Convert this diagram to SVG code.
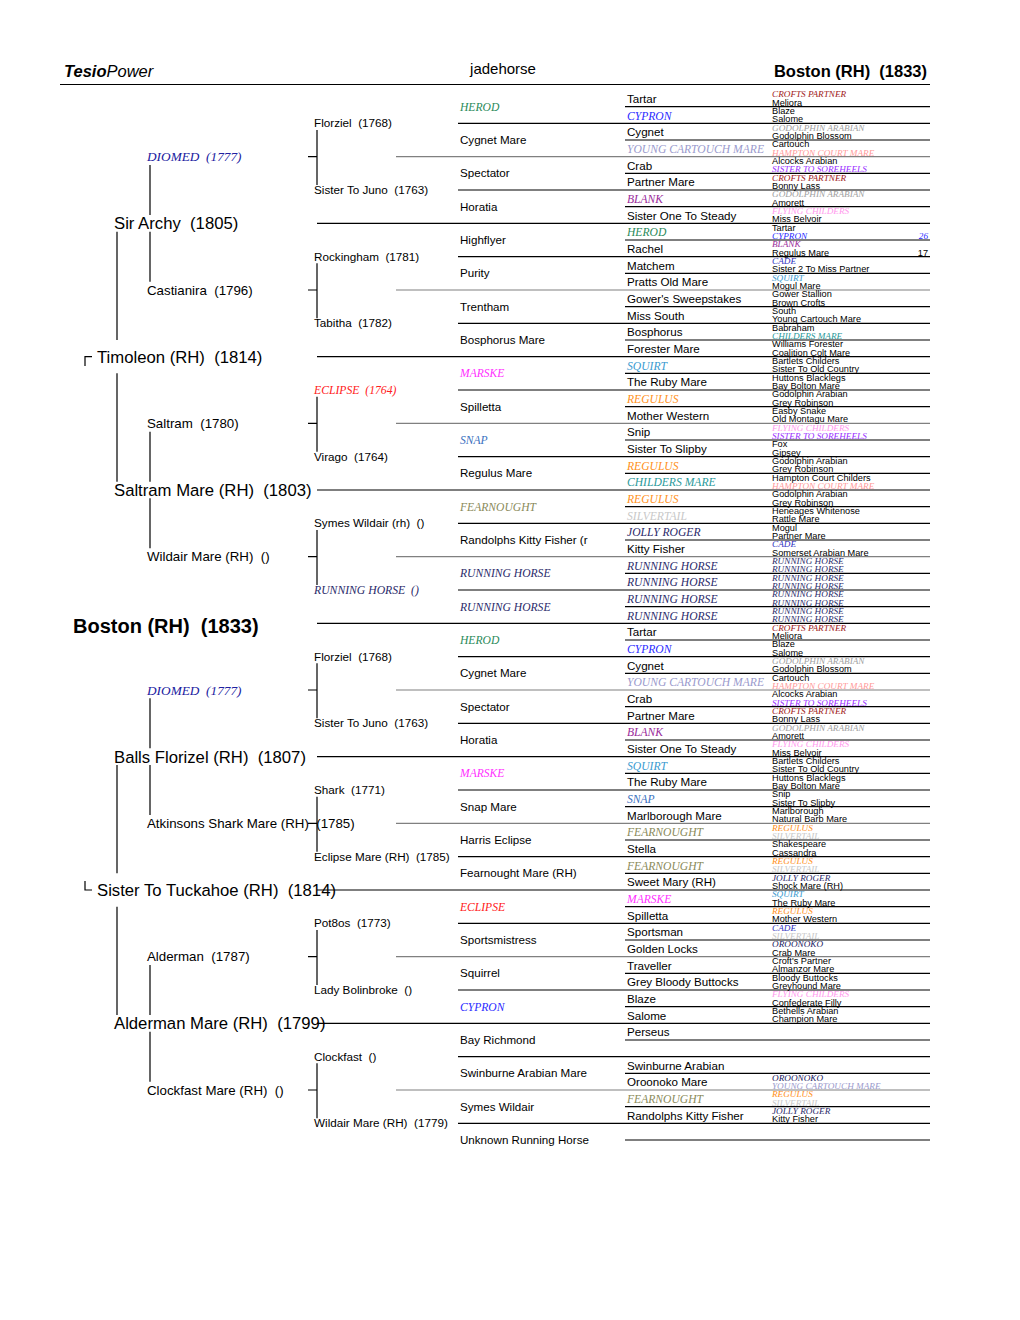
<svg xmlns="http://www.w3.org/2000/svg" width="1020" height="1320" viewBox="0 0 1020 1320">
<style>
text{white-space:pre}
.a{font-family:"Liberation Sans",Arial,sans-serif;fill:#000}
.i{font-family:"Liberation Serif","Times New Roman",serif;font-style:italic}
.f8{font-size:9.2px}.f7{font-size:11.6px}.f5{font-size:11.7px}.f4{font-size:13.3px}.f3{font-size:16.7px}
.f1{font-size:20px;font-weight:bold}
.hd{font-size:16.5px}
.ln{stroke:#000;stroke-width:1.2;fill:none}
.lg{stroke:#808080;stroke-width:1.2;fill:none}
.cr{fill:#a01818}.go{fill:#a0a0a0}.yc{fill:#9a9acd}.hc{fill:#ff9a9a}.ss{fill:#9a30ff}.fl{fill:#ff99ee}
.cy{fill:#2a2aff}.bl{fill:#9a2a9a}.he{fill:#2a8a5a}.ca{fill:#3030c0}.sq{fill:#3a9ad0}.ch{fill:#2a9a9a}
.re{fill:#ff9020}.si{fill:#c8c8c8}.jr{fill:#2a2a6a}.rh{fill:#2a2a6a}.ma{fill:#ff30ff}.sn{fill:#3a70c0}
.fe{fill:#8a8a5a}.ec{fill:#ff2020}.oo{fill:#202060}.di{fill:#2020a0}
</style>
<rect width="1020" height="1320" fill="#fff"/>
<g id="header">
<text class="a hd" x="64" y="77"><tspan font-weight="bold" font-style="italic">Tesio</tspan><tspan font-style="italic">Power</tspan></text>
<text class="a" x="503" y="74" font-size="15px" text-anchor="middle">jadehorse</text>
<text class="a hd" x="927" y="77" font-weight="bold" text-anchor="end">Boston (RH)  (1833)</text>
</g>
<g id="connectors">
<path class="ln" d="M60 84.5H930"/>
<path class="ln" d="M625 106.7H930M625 140H930M625 173.3H930M625 206.7H930M625 240H930M625 273.3H930M625 306.7H930M625 340H930M625 373.3H930M625 406.7H930M625 440H930M625 473.3H930M625 506.7H930M625 540H930M625 573.3H930M625 606.7H930M625 640H930M625 673.3H930M625 706.7H930M625 740H930M625 773.3H930M625 806.7H930M625 840H930M625 873.3H930M625 906.7H930M625 940H930M625 973.3H930M625 1006.7H930M625 1040H930M625 1073.3H930M625 1106.7H930M625 1140H930"/>
<path class="ln" d="M458 123.3H930M458 190H930M458 256.7H930M458 323.3H930M458 390H930M458 456.7H930M458 523.3H930M458 590H930M458 656.7H930M458 723.3H930M458 790H930M458 856.7H930M458 923.3H930M458 990H930M458 1056.7H930M458 1123.3H930"/>
<path class="lg" d="M396 156.7H930M396 290H930M396 423.3H930M396 556.7H930M396 690H930M396 823.3H930M396 956.7H930M396 1090H930"/>
<path class="ln" d="M317 223.3H930M317 356.7H930M317 490H930M317 623.3H930M317 756.7H930M317 890H930M317 1023.3H930"/>
<path class="ln" d="M317 130V185M308 156.7H317M317 263.3V318.3M308 290H317M317 396.7V451.7M308 423.3H317M317 530V585M308 556.7H317M317 663.3V718.3M308 690H317M317 796.7V851.7M308 823.3H317M317 930V985M308 956.7H317M317 1063.3V1118.3M308 1090H317"/>
<path class="ln" d="M150 165V215M150 231.7V281.7M150 431.7V481.7M150 498.3V548.3M150 698.3V748.3M150 765V815M150 965V1015M150 1031.7V1081.7"/>
<path class="ln" d="M117 231.7V340M117 373.3V481.7M117 765V873.3M117 906.7V1015"/>
<path class="ln" d="M92 356.7H85V366M85 881V890H92"/>
</g>
<g id="gen1"><g id="boston"><text class="a f1" x="73" y="633">Boston (RH)  (1833)</text></g></g>
<g id="gen2">
<g id="timoleon"><text class="a f3" x="97" y="362.7">Timoleon (RH)  (1814)</text></g>
<g id="sister-to-tuckahoe"><text class="a f3" x="97" y="896">Sister To Tuckahoe (RH)  (1814)</text></g>
</g>
<g id="gen3">
<g id="g3-0"><text class="a f3" x="114" y="229.3">Sir Archy  (1805)</text></g>
<g id="g3-1"><text class="a f3" x="114" y="496">Saltram Mare (RH)  (1803)</text></g>
<g id="g3-2"><text class="a f3" x="114" y="762.7">Balls Florizel (RH)  (1807)</text></g>
<g id="g3-3"><text class="a f3" x="114" y="1029.3">Alderman Mare (RH)  (1799)</text></g>
</g>
<g id="gen4">
<g id="g4-0"><text class="i f4 di" x="147" y="161.2">DIOMED  (1777)</text></g>
<g id="g4-1"><text class="a f4" x="147" y="294.5">Castianira  (1796)</text></g>
<g id="g4-2"><text class="a f4" x="147" y="427.8">Saltram  (1780)</text></g>
<g id="g4-3"><text class="a f4" x="147" y="561.2">Wildair Mare (RH)  ()</text></g>
<g id="g4-4"><text class="i f4 di" x="147" y="694.5">DIOMED  (1777)</text></g>
<g id="g4-5"><text class="a f4" x="147" y="827.8">Atkinsons Shark Mare (RH)  (1785)</text></g>
<g id="g4-6"><text class="a f4" x="147" y="961.2">Alderman  (1787)</text></g>
<g id="g4-7"><text class="a f4" x="147" y="1094.5">Clockfast Mare (RH)  ()</text></g>
</g>
<g id="gen5">
<g id="g5-0"><text class="a f5" x="314" y="127.3">Florziel  (1768)</text></g>
<g id="g5-1"><text class="a f5" x="314" y="194">Sister To Juno  (1763)</text></g>
<g id="g5-2"><text class="a f5" x="314" y="260.7">Rockingham  (1781)</text></g>
<g id="g5-3"><text class="a f5" x="314" y="327.3">Tabitha  (1782)</text></g>
<g id="g5-4"><text class="i f5 ec" x="314" y="394">ECLIPSE  (1764)</text></g>
<g id="g5-5"><text class="a f5" x="314" y="460.7">Virago  (1764)</text></g>
<g id="g5-6"><text class="a f5" x="314" y="527.3">Symes Wildair (rh)  ()</text></g>
<g id="g5-7"><text class="i f5 rh" x="314" y="594">RUNNING HORSE  ()</text></g>
<g id="g5-8"><text class="a f5" x="314" y="660.7">Florziel  (1768)</text></g>
<g id="g5-9"><text class="a f5" x="314" y="727.3">Sister To Juno  (1763)</text></g>
<g id="g5-10"><text class="a f5" x="314" y="794">Shark  (1771)</text></g>
<g id="g5-11"><text class="a f5" x="314" y="860.7">Eclipse Mare (RH)  (1785)</text></g>
<g id="g5-12"><text class="a f5" x="314" y="927.3">Pot8os  (1773)</text></g>
<g id="g5-13"><text class="a f5" x="314" y="994">Lady Bolinbroke  ()</text></g>
<g id="g5-14"><text class="a f5" x="314" y="1060.7">Clockfast  ()</text></g>
<g id="g5-15"><text class="a f5" x="314" y="1127.3">Wildair Mare (RH)  (1779)</text></g>
</g>
<g id="gen6">
<g id="g6-0"><text class="i f7 he" x="460" y="110.7">HEROD</text></g>
<g id="g6-1"><text class="a f7" x="460" y="144">Cygnet Mare</text></g>
<g id="g6-2"><text class="a f7" x="460" y="177.3">Spectator</text></g>
<g id="g6-3"><text class="a f7" x="460" y="210.7">Horatia</text></g>
<g id="g6-4"><text class="a f7" x="460" y="244">Highflyer</text></g>
<g id="g6-5"><text class="a f7" x="460" y="277.3">Purity</text></g>
<g id="g6-6"><text class="a f7" x="460" y="310.7">Trentham</text></g>
<g id="g6-7"><text class="a f7" x="460" y="344">Bosphorus Mare</text></g>
<g id="g6-8"><text class="i f7 ma" x="460" y="377.3">MARSKE</text></g>
<g id="g6-9"><text class="a f7" x="460" y="410.7">Spilletta</text></g>
<g id="g6-10"><text class="i f7 sn" x="460" y="444">SNAP</text></g>
<g id="g6-11"><text class="a f7" x="460" y="477.3">Regulus Mare</text></g>
<g id="g6-12"><text class="i f7 fe" x="460" y="510.7">FEARNOUGHT</text></g>
<g id="g6-13"><text class="a f7" x="460" y="544">Randolphs Kitty Fisher (r</text></g>
<g id="g6-14"><text class="i f7 rh" x="460" y="577.3">RUNNING HORSE</text></g>
<g id="g6-15"><text class="i f7 rh" x="460" y="610.7">RUNNING HORSE</text></g>
<g id="g6-16"><text class="i f7 he" x="460" y="644">HEROD</text></g>
<g id="g6-17"><text class="a f7" x="460" y="677.3">Cygnet Mare</text></g>
<g id="g6-18"><text class="a f7" x="460" y="710.7">Spectator</text></g>
<g id="g6-19"><text class="a f7" x="460" y="744">Horatia</text></g>
<g id="g6-20"><text class="i f7 ma" x="460" y="777.3">MARSKE</text></g>
<g id="g6-21"><text class="a f7" x="460" y="810.7">Snap Mare</text></g>
<g id="g6-22"><text class="a f7" x="460" y="844">Harris Eclipse</text></g>
<g id="g6-23"><text class="a f7" x="460" y="877.3">Fearnought Mare (RH)</text></g>
<g id="g6-24"><text class="i f7 ec" x="460" y="910.7">ECLIPSE</text></g>
<g id="g6-25"><text class="a f7" x="460" y="944">Sportsmistress</text></g>
<g id="g6-26"><text class="a f7" x="460" y="977.3">Squirrel</text></g>
<g id="g6-27"><text class="i f7 cy" x="460" y="1010.7">CYPRON</text></g>
<g id="g6-28"><text class="a f7" x="460" y="1044">Bay Richmond</text></g>
<g id="g6-29"><text class="a f7" x="460" y="1077.3">Swinburne Arabian Mare</text></g>
<g id="g6-30"><text class="a f7" x="460" y="1110.7">Symes Wildair</text></g>
<g id="g6-31"><text class="a f7" x="460" y="1144">Unknown Running Horse</text></g>
</g>
<g id="gen7">
<g id="g7-0"><text class="a f7" x="627" y="102.8">Tartar</text></g>
<g id="g7-1"><text class="i f7 cy" x="627" y="119.5">CYPRON</text></g>
<g id="g7-2"><text class="a f7" x="627" y="136.1">Cygnet</text></g>
<g id="g7-3"><text class="i f7 yc" x="627" y="152.8">YOUNG CARTOUCH MARE</text></g>
<g id="g7-4"><text class="a f7" x="627" y="169.5">Crab</text></g>
<g id="g7-5"><text class="a f7" x="627" y="186.1">Partner Mare</text></g>
<g id="g7-6"><text class="i f7 bl" x="627" y="202.8">BLANK</text></g>
<g id="g7-7"><text class="a f7" x="627" y="219.5">Sister One To Steady</text></g>
<g id="g7-8"><text class="i f7 he" x="627" y="236.1">HEROD</text></g>
<g id="g7-9"><text class="a f7" x="627" y="252.8">Rachel</text></g>
<g id="g7-10"><text class="a f7" x="627" y="269.5">Matchem</text></g>
<g id="g7-11"><text class="a f7" x="627" y="286.1">Pratts Old Mare</text></g>
<g id="g7-12"><text class="a f7" x="627" y="302.8">Gower's Sweepstakes</text></g>
<g id="g7-13"><text class="a f7" x="627" y="319.5">Miss South</text></g>
<g id="g7-14"><text class="a f7" x="627" y="336.1">Bosphorus</text></g>
<g id="g7-15"><text class="a f7" x="627" y="352.8">Forester Mare</text></g>
<g id="g7-16"><text class="i f7 sq" x="627" y="369.5">SQUIRT</text></g>
<g id="g7-17"><text class="a f7" x="627" y="386.1">The Ruby Mare</text></g>
<g id="g7-18"><text class="i f7 re" x="627" y="402.8">REGULUS</text></g>
<g id="g7-19"><text class="a f7" x="627" y="419.5">Mother Western</text></g>
<g id="g7-20"><text class="a f7" x="627" y="436.1">Snip</text></g>
<g id="g7-21"><text class="a f7" x="627" y="452.8">Sister To Slipby</text></g>
<g id="g7-22"><text class="i f7 re" x="627" y="469.5">REGULUS</text></g>
<g id="g7-23"><text class="i f7 ch" x="627" y="486.1">CHILDERS MARE</text></g>
<g id="g7-24"><text class="i f7 re" x="627" y="502.8">REGULUS</text></g>
<g id="g7-25"><text class="i f7 si" x="627" y="519.5">SILVERTAIL</text></g>
<g id="g7-26"><text class="i f7 jr" x="627" y="536.1">JOLLY ROGER</text></g>
<g id="g7-27"><text class="a f7" x="627" y="552.8">Kitty Fisher</text></g>
<g id="g7-28"><text class="i f7 rh" x="627" y="569.5">RUNNING HORSE</text></g>
<g id="g7-29"><text class="i f7 rh" x="627" y="586.1">RUNNING HORSE</text></g>
<g id="g7-30"><text class="i f7 rh" x="627" y="602.8">RUNNING HORSE</text></g>
<g id="g7-31"><text class="i f7 rh" x="627" y="619.5">RUNNING HORSE</text></g>
<g id="g7-32"><text class="a f7" x="627" y="636.1">Tartar</text></g>
<g id="g7-33"><text class="i f7 cy" x="627" y="652.8">CYPRON</text></g>
<g id="g7-34"><text class="a f7" x="627" y="669.5">Cygnet</text></g>
<g id="g7-35"><text class="i f7 yc" x="627" y="686.1">YOUNG CARTOUCH MARE</text></g>
<g id="g7-36"><text class="a f7" x="627" y="702.8">Crab</text></g>
<g id="g7-37"><text class="a f7" x="627" y="719.5">Partner Mare</text></g>
<g id="g7-38"><text class="i f7 bl" x="627" y="736.1">BLANK</text></g>
<g id="g7-39"><text class="a f7" x="627" y="752.8">Sister One To Steady</text></g>
<g id="g7-40"><text class="i f7 sq" x="627" y="769.5">SQUIRT</text></g>
<g id="g7-41"><text class="a f7" x="627" y="786.1">The Ruby Mare</text></g>
<g id="g7-42"><text class="i f7 sn" x="627" y="802.8">SNAP</text></g>
<g id="g7-43"><text class="a f7" x="627" y="819.5">Marlborough Mare</text></g>
<g id="g7-44"><text class="i f7 fe" x="627" y="836.1">FEARNOUGHT</text></g>
<g id="g7-45"><text class="a f7" x="627" y="852.8">Stella</text></g>
<g id="g7-46"><text class="i f7 fe" x="627" y="869.5">FEARNOUGHT</text></g>
<g id="g7-47"><text class="a f7" x="627" y="886.1">Sweet Mary (RH)</text></g>
<g id="g7-48"><text class="i f7 ma" x="627" y="902.8">MARSKE</text></g>
<g id="g7-49"><text class="a f7" x="627" y="919.5">Spilletta</text></g>
<g id="g7-50"><text class="a f7" x="627" y="936.1">Sportsman</text></g>
<g id="g7-51"><text class="a f7" x="627" y="952.8">Golden Locks</text></g>
<g id="g7-52"><text class="a f7" x="627" y="969.5">Traveller</text></g>
<g id="g7-53"><text class="a f7" x="627" y="986.1">Grey Bloody Buttocks</text></g>
<g id="g7-54"><text class="a f7" x="627" y="1002.8">Blaze</text></g>
<g id="g7-55"><text class="a f7" x="627" y="1019.5">Salome</text></g>
<g id="g7-56"><text class="a f7" x="627" y="1036.1">Perseus</text></g>
<g id="g7-58"><text class="a f7" x="627" y="1069.5">Swinburne Arabian</text></g>
<g id="g7-59"><text class="a f7" x="627" y="1086.1">Oroonoko Mare</text></g>
<g id="g7-60"><text class="i f7 fe" x="627" y="1102.8">FEARNOUGHT</text></g>
<g id="g7-61"><text class="a f7" x="627" y="1119.5">Randolphs Kitty Fisher</text></g>
</g>
<g id="gen8">
<g id="g8-0"><text class="i f8 cr" x="772" y="97.2">CROFTS PARTNER</text></g>
<g id="g8-1"><text class="a f8" x="772" y="105.5">Meliora</text></g>
<g id="g8-2"><text class="a f8" x="772" y="113.8">Blaze</text></g>
<g id="g8-3"><text class="a f8" x="772" y="122.2">Salome</text></g>
<g id="g8-4"><text class="i f8 go" x="772" y="130.5">GODOLPHIN ARABIAN</text></g>
<g id="g8-5"><text class="a f8" x="772" y="138.8">Godolphin Blossom</text></g>
<g id="g8-6"><text class="a f8" x="772" y="147.2">Cartouch</text></g>
<g id="g8-7"><text class="i f8 hc" x="772" y="155.5">HAMPTON COURT MARE</text></g>
<g id="g8-8"><text class="a f8" x="772" y="163.8">Alcocks Arabian</text></g>
<g id="g8-9"><text class="i f8 ss" x="772" y="172.2">SISTER TO SOREHEELS</text></g>
<g id="g8-10"><text class="i f8 cr" x="772" y="180.5">CROFTS PARTNER</text></g>
<g id="g8-11"><text class="a f8" x="772" y="188.8">Bonny Lass</text></g>
<g id="g8-12"><text class="i f8 go" x="772" y="197.2">GODOLPHIN ARABIAN</text></g>
<g id="g8-13"><text class="a f8" x="772" y="205.5">Amorett</text></g>
<g id="g8-14"><text class="i f8 fl" x="772" y="213.8">FLYING CHILDERS</text></g>
<g id="g8-15"><text class="a f8" x="772" y="222.2">Miss Belvoir</text></g>
<g id="g8-16"><text class="a f8" x="772" y="230.5">Tartar</text></g>
<g id="g8-17"><text class="i f8 cy" x="772" y="238.8">CYPRON</text></g>
<g id="g8-17n"><text class="i f8 cy" x="928" y="238.8" text-anchor="end">26</text></g>
<g id="g8-18"><text class="i f8 bl" x="772" y="247.2">BLANK</text></g>
<g id="g8-19"><text class="a f8" x="772" y="255.5">Regulus Mare</text></g>
<g id="g8-19n"><text class="a f8" x="928" y="255.5" text-anchor="end">17</text></g>
<g id="g8-20"><text class="i f8 ca" x="772" y="263.8">CADE</text></g>
<g id="g8-21"><text class="a f8" x="772" y="272.2">Sister 2 To Miss Partner</text></g>
<g id="g8-22"><text class="i f8 sq" x="772" y="280.5">SQUIRT</text></g>
<g id="g8-23"><text class="a f8" x="772" y="288.8">Mogul Mare</text></g>
<g id="g8-24"><text class="a f8" x="772" y="297.2">Gower Stallion</text></g>
<g id="g8-25"><text class="a f8" x="772" y="305.5">Brown Crofts</text></g>
<g id="g8-26"><text class="a f8" x="772" y="313.8">South</text></g>
<g id="g8-27"><text class="a f8" x="772" y="322.2">Young Cartouch Mare</text></g>
<g id="g8-28"><text class="a f8" x="772" y="330.5">Babraham</text></g>
<g id="g8-29"><text class="i f8 ch" x="772" y="338.8">CHILDERS MARE</text></g>
<g id="g8-30"><text class="a f8" x="772" y="347.2">Williams Forester</text></g>
<g id="g8-31"><text class="a f8" x="772" y="355.5">Coalition Colt Mare</text></g>
<g id="g8-32"><text class="a f8" x="772" y="363.8">Bartlets Childers</text></g>
<g id="g8-33"><text class="a f8" x="772" y="372.2">Sister To Old Country</text></g>
<g id="g8-34"><text class="a f8" x="772" y="380.5">Huttons Blacklegs</text></g>
<g id="g8-35"><text class="a f8" x="772" y="388.8">Bay Bolton Mare</text></g>
<g id="g8-36"><text class="a f8" x="772" y="397.2">Godolphin Arabian</text></g>
<g id="g8-37"><text class="a f8" x="772" y="405.5">Grey Robinson</text></g>
<g id="g8-38"><text class="a f8" x="772" y="413.8">Easby Snake</text></g>
<g id="g8-39"><text class="a f8" x="772" y="422.2">Old Montagu Mare</text></g>
<g id="g8-40"><text class="i f8 fl" x="772" y="430.5">FLYING CHILDERS</text></g>
<g id="g8-41"><text class="i f8 ss" x="772" y="438.8">SISTER TO SOREHEELS</text></g>
<g id="g8-42"><text class="a f8" x="772" y="447.2">Fox</text></g>
<g id="g8-43"><text class="a f8" x="772" y="455.5">Gipsey</text></g>
<g id="g8-44"><text class="a f8" x="772" y="463.8">Godolphin Arabian</text></g>
<g id="g8-45"><text class="a f8" x="772" y="472.2">Grey Robinson</text></g>
<g id="g8-46"><text class="a f8" x="772" y="480.5">Hampton Court Childers</text></g>
<g id="g8-47"><text class="i f8 hc" x="772" y="488.8">HAMPTON COURT MARE</text></g>
<g id="g8-48"><text class="a f8" x="772" y="497.2">Godolphin Arabian</text></g>
<g id="g8-49"><text class="a f8" x="772" y="505.5">Grey Robinson</text></g>
<g id="g8-50"><text class="a f8" x="772" y="513.8">Heneages Whitenose</text></g>
<g id="g8-51"><text class="a f8" x="772" y="522.2">Rattle Mare</text></g>
<g id="g8-52"><text class="a f8" x="772" y="530.5">Mogul</text></g>
<g id="g8-53"><text class="a f8" x="772" y="538.8">Partner Mare</text></g>
<g id="g8-54"><text class="i f8 ca" x="772" y="547.2">CADE</text></g>
<g id="g8-55"><text class="a f8" x="772" y="555.5">Somerset Arabian Mare</text></g>
<g id="g8-56"><text class="i f8 rh" x="772" y="563.8">RUNNING HORSE</text></g>
<g id="g8-57"><text class="i f8 rh" x="772" y="572.2">RUNNING HORSE</text></g>
<g id="g8-58"><text class="i f8 rh" x="772" y="580.5">RUNNING HORSE</text></g>
<g id="g8-59"><text class="i f8 rh" x="772" y="588.8">RUNNING HORSE</text></g>
<g id="g8-60"><text class="i f8 rh" x="772" y="597.2">RUNNING HORSE</text></g>
<g id="g8-61"><text class="i f8 rh" x="772" y="605.5">RUNNING HORSE</text></g>
<g id="g8-62"><text class="i f8 rh" x="772" y="613.8">RUNNING HORSE</text></g>
<g id="g8-63"><text class="i f8 rh" x="772" y="622.2">RUNNING HORSE</text></g>
<g id="g8-64"><text class="i f8 cr" x="772" y="630.5">CROFTS PARTNER</text></g>
<g id="g8-65"><text class="a f8" x="772" y="638.8">Meliora</text></g>
<g id="g8-66"><text class="a f8" x="772" y="647.2">Blaze</text></g>
<g id="g8-67"><text class="a f8" x="772" y="655.5">Salome</text></g>
<g id="g8-68"><text class="i f8 go" x="772" y="663.8">GODOLPHIN ARABIAN</text></g>
<g id="g8-69"><text class="a f8" x="772" y="672.2">Godolphin Blossom</text></g>
<g id="g8-70"><text class="a f8" x="772" y="680.5">Cartouch</text></g>
<g id="g8-71"><text class="i f8 hc" x="772" y="688.8">HAMPTON COURT MARE</text></g>
<g id="g8-72"><text class="a f8" x="772" y="697.2">Alcocks Arabian</text></g>
<g id="g8-73"><text class="i f8 ss" x="772" y="705.5">SISTER TO SOREHEELS</text></g>
<g id="g8-74"><text class="i f8 cr" x="772" y="713.8">CROFTS PARTNER</text></g>
<g id="g8-75"><text class="a f8" x="772" y="722.2">Bonny Lass</text></g>
<g id="g8-76"><text class="i f8 go" x="772" y="730.5">GODOLPHIN ARABIAN</text></g>
<g id="g8-77"><text class="a f8" x="772" y="738.8">Amorett</text></g>
<g id="g8-78"><text class="i f8 fl" x="772" y="747.2">FLYING CHILDERS</text></g>
<g id="g8-79"><text class="a f8" x="772" y="755.5">Miss Belvoir</text></g>
<g id="g8-80"><text class="a f8" x="772" y="763.8">Bartlets Childers</text></g>
<g id="g8-81"><text class="a f8" x="772" y="772.2">Sister To Old Country</text></g>
<g id="g8-82"><text class="a f8" x="772" y="780.5">Huttons Blacklegs</text></g>
<g id="g8-83"><text class="a f8" x="772" y="788.8">Bay Bolton Mare</text></g>
<g id="g8-84"><text class="a f8" x="772" y="797.2">Snip</text></g>
<g id="g8-85"><text class="a f8" x="772" y="805.5">Sister To Slipby</text></g>
<g id="g8-86"><text class="a f8" x="772" y="813.8">Marlborough</text></g>
<g id="g8-87"><text class="a f8" x="772" y="822.2">Natural Barb Mare</text></g>
<g id="g8-88"><text class="i f8 re" x="772" y="830.5">REGULUS</text></g>
<g id="g8-89"><text class="i f8 si" x="772" y="838.8">SILVERTAIL</text></g>
<g id="g8-90"><text class="a f8" x="772" y="847.2">Shakespeare</text></g>
<g id="g8-91"><text class="a f8" x="772" y="855.5">Cassandra</text></g>
<g id="g8-92"><text class="i f8 re" x="772" y="863.8">REGULUS</text></g>
<g id="g8-93"><text class="i f8 si" x="772" y="872.2">SILVERTAIL</text></g>
<g id="g8-94"><text class="i f8 jr" x="772" y="880.5">JOLLY ROGER</text></g>
<g id="g8-95"><text class="a f8" x="772" y="888.8">Shock Mare (RH)</text></g>
<g id="g8-96"><text class="i f8 sq" x="772" y="897.2">SQUIRT</text></g>
<g id="g8-97"><text class="a f8" x="772" y="905.5">The Ruby Mare</text></g>
<g id="g8-98"><text class="i f8 re" x="772" y="913.8">REGULUS</text></g>
<g id="g8-99"><text class="a f8" x="772" y="922.2">Mother Western</text></g>
<g id="g8-100"><text class="i f8 ca" x="772" y="930.5">CADE</text></g>
<g id="g8-101"><text class="i f8 si" x="772" y="938.8">SILVERTAIL</text></g>
<g id="g8-102"><text class="i f8 oo" x="772" y="947.2">OROONOKO</text></g>
<g id="g8-103"><text class="a f8" x="772" y="955.5">Crab Mare</text></g>
<g id="g8-104"><text class="a f8" x="772" y="963.8">Croft's Partner</text></g>
<g id="g8-105"><text class="a f8" x="772" y="972.2">Almanzor Mare</text></g>
<g id="g8-106"><text class="a f8" x="772" y="980.5">Bloody Buttocks</text></g>
<g id="g8-107"><text class="a f8" x="772" y="988.8">Greyhound Mare</text></g>
<g id="g8-108"><text class="i f8 fl" x="772" y="997.2">FLYING CHILDERS</text></g>
<g id="g8-109"><text class="a f8" x="772" y="1005.5">Confederate Filly</text></g>
<g id="g8-110"><text class="a f8" x="772" y="1013.8">Bethells Arabian</text></g>
<g id="g8-111"><text class="a f8" x="772" y="1022.2">Champion Mare</text></g>
<g id="g8-118"><text class="i f8 oo" x="772" y="1080.5">OROONOKO</text></g>
<g id="g8-119"><text class="i f8 yc" x="772" y="1088.8">YOUNG CARTOUCH MARE</text></g>
<g id="g8-120"><text class="i f8 re" x="772" y="1097.2">REGULUS</text></g>
<g id="g8-121"><text class="i f8 si" x="772" y="1105.5">SILVERTAIL</text></g>
<g id="g8-122"><text class="i f8 jr" x="772" y="1113.8">JOLLY ROGER</text></g>
<g id="g8-123"><text class="a f8" x="772" y="1122.2">Kitty Fisher</text></g>
</g>
</svg>
